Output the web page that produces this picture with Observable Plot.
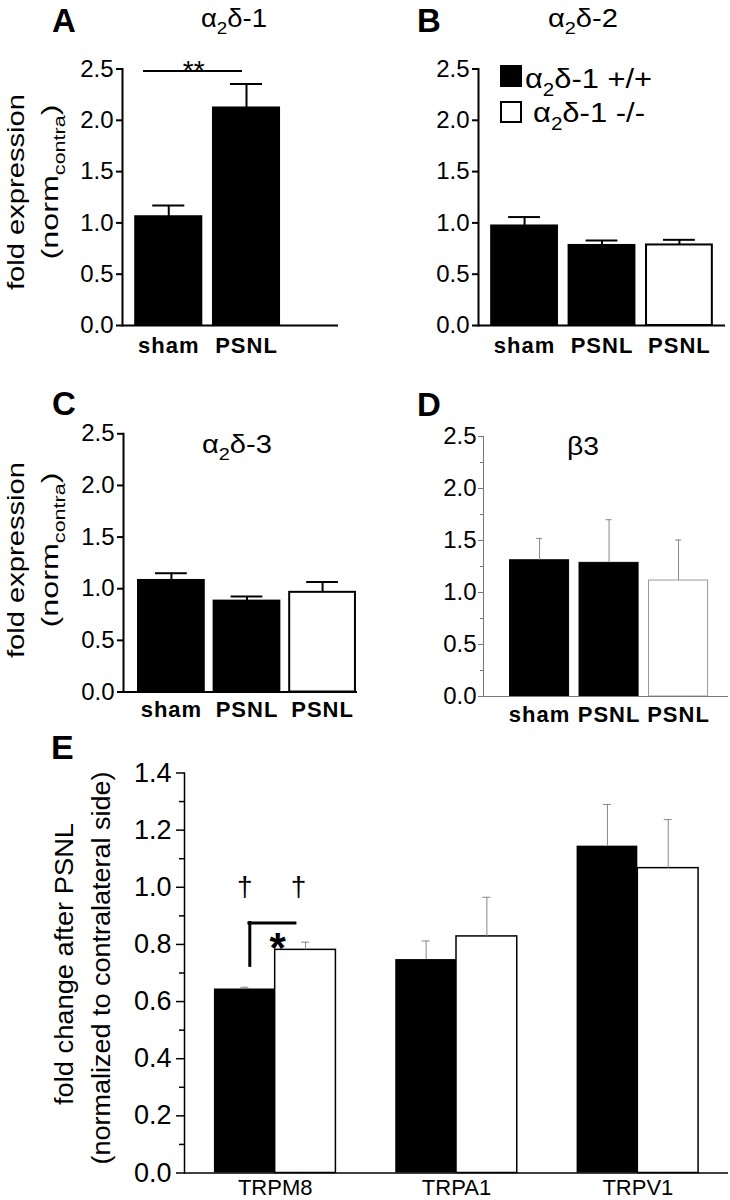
<!DOCTYPE html>
<html>
<head>
<meta charset="utf-8">
<script src="https://cdn.jsdelivr.net/npm/d3@7"></script>
<script src="https://cdn.jsdelivr.net/npm/@observablehq/plot@0.6"></script>
<style>
  body { margin: 0; background: #fff; }
  #fig { position: relative; width: 730px; height: 1200px; overflow: hidden; background: #fff;
         font-family: "Liberation Sans", Arial, Helvetica, sans-serif; }
  #fig > .panel { position: absolute; }
  #overlay { position: absolute; left: 0; top: 0; pointer-events: none; }
  .abcd g[aria-label="x-axis tick label"] text { letter-spacing: 1px; }
</style>
</head>
<body>
<div id="fig"></div>
<script>
// ---------------- DATA ----------------
const aGroups = ["sham", "PSNL"];
const aGeno   = ["+/+", "+/+"];
const aMean   = [1.06, 2.12];
const aSem    = [0.11, 0.235];

const bcdGroups = ["sham", "PSNL +/+", "PSNL -/-"];
const bcdGeno   = ["+/+", "+/+", "-/-"];
const bMean = [0.97, 0.78, 0.785];
const bSem  = [0.087, 0.048, 0.05];
const cMean = [1.08, 0.88, 0.965];
const cSem  = [0.07, 0.045, 0.10];
const dMean = [1.31, 1.285, 1.115];
const dSem  = [0.21, 0.415, 0.39];

const eGenes  = ["TRPM8", "TRPA1", "TRPV1"];
const eMeanWT = [0.644, 0.747, 1.144];
const eSemWT  = [0.006, 0.065, 0.146];
const eMeanKO = [0.781, 0.828, 1.067];
const eSemKO  = [0.027, 0.137, 0.17];

const abcdTicks   = [0, 0.5, 1.0, 1.5, 2.0, 2.5];
const dMinorTicks = [0.25, 0.75, 1.25, 1.75, 2.25];
const eTicks      = [0, 0.2, 0.4, 0.6, 0.8, 1.0, 1.2, 1.4];
const eMinorTicks = [0.1, 0.3, 0.5, 0.7, 0.9, 1.1, 1.3];
const xLabel = {"sham": "sham", "PSNL": "PSNL", "PSNL +/+": "PSNL", "PSNL -/-": "PSNL"};

// significance annotations
const aSig = [{g: "sham", v: 2.48, label: "**"}];
const eDagger = [{g: "TRPM8", v: 1.0, label: "†"}];
const eBracket = [{g: "TRPM8", low: 0.725, high: 0.875}];
const eStar = [{g: "TRPM8", v: 0.785, label: "*"}];

// ---------------- HELPERS ----------------
const FONT = '"Liberation Sans", Arial, Helvetica, sans-serif';
const fig = document.getElementById("fig");
function place(node, left, top) {
  const d = document.createElement("div");
  d.className = "panel";
  d.style.left = left + "px"; d.style.top = top + "px";
  d.appendChild(node); fig.appendChild(d);
}
function rowsOf(groups, geno, mean, sem) {
  return groups.map((g, i) => ({g, geno: geno[i], mean: mean[i], top: mean[i] + sem[i]}));
}
const fmt1 = d3.format(".1f");

function panel(rows, o) {
  return Plot.plot({
    className: "abcd",
    width: o.width, height: o.height,
    marginTop: o.mt, marginBottom: o.mb, marginLeft: o.ml, marginRight: o.mr,
    style: {fontFamily: FONT, fontSize: "24px", background: "transparent", color: "black", overflow: "visible"},
    x: {domain: o.domain, range: o.range, paddingInner: o.pi, paddingOuter: o.po, align: o.align, round: false},
    y: {domain: [0, 2.5]},
    color: {domain: ["+/+", "-/-"], range: ["black", "white"]},
    marks: [
      Plot.barY(rows, {filter: d => d.geno === "+/+", x: "g", y: "mean", fill: "geno", stroke: o.wtStroke, strokeWidth: o.barSW}),
      Plot.barY(rows, {filter: d => d.geno === "-/-", x: "g", y: "mean", fill: "geno", stroke: o.koStroke, strokeWidth: o.barSW}),
      Plot.ruleX(rows, {x: "g", y1: "mean", y2: "top", stroke: o.errColor, strokeWidth: o.errSW}),
      Plot.tickY(rows, {x: "g", y: "top", stroke: o.errColor, strokeWidth: o.errSW, insetLeft: o.capInset, insetRight: o.capInset}),
      Plot.ruleY([0], {stroke: o.axisColor, strokeWidth: o.axisSW}),
      Plot.frame({anchor: "left", stroke: o.axisColor, strokeWidth: o.axisSW}),
      Plot.axisY({ticks: abcdTicks, tickFormat: fmt1, tickSize: o.tickSize, tickPadding: o.tickPadding,
                  stroke: o.axisColor, strokeWidth: o.axisSW, fill: "black", fontSize: 24, label: null}),
      o.minor ? Plot.axisY({ticks: o.minor, tickFormat: () => "", tickSize: 3, stroke: o.axisColor, strokeWidth: o.axisSW, label: null}) : null,
      Plot.axisX({ticks: o.xTicks, tickFormat: d => xLabel[d], tickSize: 0, tickPadding: o.xPad,
                  fontWeight: "bold", fontSize: 22, fill: "black", label: null}),
      ...(o.extra || [])
    ]
  });
}

const solid = {axisColor: "black", axisSW: 2, barSW: 2, wtStroke: "black", koStroke: "black",
               errColor: "black", errSW: 2, capInset: 17, tickSize: 6, tickPadding: 3};

// ---------------- PANEL A ----------------
place(panel(rowsOf(aGroups, aGeno, aMean, aSem), {
  ...solid, width: 365, height: 365, mt: 68.5, mb: 40, ml: 122, mr: 27,
  domain: ["sham", "PSNL", "(none)"], range: [122, 370], pi: 0.15, po: 0.17, align: 0.5,
  xTicks: aGroups, xPad: 12,
  extra: [
    Plot.ruleY(aSig, {y: "v", stroke: "black", strokeWidth: 2, insetLeft: 21, insetRight: 96}),
    Plot.text(aSig, {x: "g", y: "v", text: "label", dx: 25, fontSize: 28, lineAnchor: "middle"})
  ]
}), 0, 0);

// ---------------- PANEL B ----------------
place(panel(rowsOf(bcdGroups, bcdGeno, bMean, bSem), {
  ...solid, width: 365, height: 365, mt: 68.5, mb: 40, ml: 113, mr: 5,
  domain: bcdGroups, range: [113, 360], pi: 0.15, po: 0.17, align: 0.5,
  xTicks: bcdGroups, xPad: 12
}), 365, 0);

// ---------------- PANEL C ----------------
place(panel(rowsOf(bcdGroups, bcdGeno, cMean, cSem), {
  ...solid, width: 365, height: 360, mt: 53.3, mb: 48.5, ml: 123, mr: 8,
  domain: bcdGroups, range: [123, 357], pi: 0.13, po: 0.113, align: 0.88,
  xTicks: bcdGroups, xPad: 9
}), 0, 380);

// ---------------- PANEL D ----------------
place(panel(rowsOf(bcdGroups, bcdGeno, dMean, dSem), {
  axisColor: "#777", axisSW: 1, barSW: 1, wtStroke: "black", koStroke: "#999",
  errColor: "#888", errSW: 1, capInset: 26.5, tickSize: 5, tickPadding: 2, minor: dMinorTicks,
  width: 365, height: 360, mt: 56, mb: 44, ml: 118, mr: 2,
  domain: bcdGroups, range: [118, 363], pi: 0.15, po: 0.338, align: 0.565,
  xTicks: bcdGroups, xPad: 9.5
}), 365, 380);

// ---------------- PANEL E ----------------
{
  const eRange = [184, 728];
  const eBand = d3.scaleBand().domain(eGenes).range(eRange).paddingInner(0.33).paddingOuter(0.165);
  const bw = eBand.bandwidth(), q = bw / 4;
  const eWT = eGenes.map((g, i) => ({g, geno: "+/+", mean: eMeanWT[i], top: eMeanWT[i] + eSemWT[i]}));
  const eKO = eGenes.map((g, i) => ({g, geno: "-/-", mean: eMeanKO[i], top: eMeanKO[i] + eSemKO[i]}));
  place(Plot.plot({
    width: 730, height: 460, marginTop: 32.5, marginBottom: 27.5, marginLeft: 184, marginRight: 2,
    style: {fontFamily: FONT, fontSize: "22px", background: "transparent", color: "black", overflow: "visible"},
    x: {domain: eGenes, range: eRange, paddingInner: 0.33, paddingOuter: 0.165, round: false},
    y: {domain: [0, 1.4]},
    color: {domain: ["+/+", "-/-"], range: ["black", "white"]},
    marks: [
      Plot.barY(eWT, {x: "g", y: "mean", fill: "geno", insetRight: bw / 2}),
      Plot.barY(eKO, {x: "g", y: "mean", fill: "geno", stroke: "black", strokeWidth: 1.5, insetLeft: bw / 2}),
      Plot.ruleX(eWT, {x: "g", y1: "mean", y2: "top", dx: -q, stroke: "#888", strokeWidth: 1}),
      Plot.tickY(eWT, {x: "g", y: "top", insetLeft: q - 4, insetRight: 3 * q - 4, stroke: "#888", strokeWidth: 1}),
      Plot.ruleX(eKO, {x: "g", y1: "mean", y2: "top", dx: q, stroke: "#888", strokeWidth: 1}),
      Plot.tickY(eKO, {x: "g", y: "top", insetLeft: 3 * q - 4, insetRight: q - 4, stroke: "#888", strokeWidth: 1}),
      Plot.ruleY([0], {stroke: "black", strokeWidth: 1.5}),
      Plot.frame({anchor: "left", stroke: "black", strokeWidth: 1.5}),
      Plot.axisY({ticks: eTicks, tickFormat: fmt1, tickSize: 8, tickPadding: 5, strokeWidth: 1.5, fill: "black", fontSize: 27, label: null}),
      Plot.axisY({ticks: eMinorTicks, tickFormat: () => "", tickSize: 5, strokeWidth: 1.5, label: null}),
      Plot.axisX({tickSize: 0, tickPadding: 6, fontSize: 22, fill: "black", label: null}),
      // annotations
      Plot.text(eDagger, {x: "g", y: "v", text: "label", dx: -q, fontSize: 28, lineAnchor: "middle"}),
      Plot.text(eDagger, {x: "g", y: "v", text: "label", dx: q - 7, fontSize: 28, lineAnchor: "middle"}),
      Plot.ruleX(eBracket, {x: "g", y1: "low", y2: "high", dx: -q + 5, stroke: "black", strokeWidth: 3, strokeLinecap: "square"}),
      Plot.tickY(eBracket, {x: "g", y: "high", insetLeft: 35, insetRight: bw - 81, stroke: "black", strokeWidth: 3, strokeLinecap: "square"}),
      Plot.text(eStar, {x: "g", y: "v", text: "label", dx: 2.5, fontSize: 42, fontWeight: "bold", lineAnchor: "middle"})
    ]
  }), 0, 740);
}

// ---------------- OVERLAY TEXT ----------------
const ov = d3.select("#fig").append("svg").attr("id", "overlay")
  .attr("width", 730).attr("height", 1200).style("font-family", FONT);

function addText(x, y, parts, {size, weight = "normal", anchor = "start", rotate = 0, length = null, fill = "black"}) {
  const t = ov.append("text").attr("x", x).attr("y", y)
    .attr("font-size", size).attr("font-weight", weight).attr("text-anchor", anchor).attr("fill", fill);
  if (rotate) t.attr("transform", `rotate(${rotate},${x},${y})`);
  if (length) t.attr("textLength", length).attr("lengthAdjust", "spacingAndGlyphs");
  let shift = 0;
  for (const p of parts) {
    const isSub = typeof p === "object";
    const s = t.append("tspan").text(isSub ? p.sub : p);
    const target = isSub ? Math.round(size * 0.28) : 0;
    if (target - shift !== 0) s.attr("dy", target - shift);
    shift = target;
    if (isSub) s.attr("font-size", Math.round(size * 0.68));
  }
  return t;
}

// panel letters
addText(52, 32, ["A"], {size: 33, weight: "bold"});
addText(417, 32, ["B"], {size: 33, weight: "bold"});
addText(52, 415, ["C"], {size: 33, weight: "bold"});
addText(417, 416, ["D"], {size: 33, weight: "bold"});
addText(51, 759, ["E"], {size: 34, weight: "bold"});

// titles
addText(234, 27, ["α", {sub: "2"}, "δ-1"], {size: 25, anchor: "middle", length: 66});
addText(583, 27, ["α", {sub: "2"}, "δ-2"], {size: 25, anchor: "middle", length: 70});
addText(237, 453, ["α", {sub: "2"}, "δ-3"], {size: 25, anchor: "middle", length: 70});
addText(583, 455, ["β3"], {size: 25, anchor: "middle", length: 32});

// legend (panel B)
ov.append("rect").attr("x", 500).attr("y", 65).attr("width", 22).attr("height", 22).attr("fill", "black");
ov.append("rect").attr("x", 501).attr("y", 102).attr("width", 20).attr("height", 20)
  .attr("fill", "white").attr("stroke", "black").attr("stroke-width", 2);
addText(525, 88, ["α", {sub: "2"}, "δ-1 +/+"], {size: 27, length: 127});
addText(533, 122, ["α", {sub: "2"}, "δ-1 -/-"], {size: 27, length: 112});

// y-axis titles
addText(24, 192, ["fold expression"], {size: 24, anchor: "middle", rotate: -90, length: 196});
addText(58, 182, ["(norm", {sub: "contra"}, ")"], {size: 24, anchor: "middle", rotate: -90, length: 155});
addText(24, 560, ["fold expression"], {size: 24, anchor: "middle", rotate: -90, length: 196});
addText(58, 550, ["(norm", {sub: "contra"}, ")"], {size: 24, anchor: "middle", rotate: -90, length: 155});
addText(73, 964, ["fold change after PSNL"], {size: 25, anchor: "middle", rotate: -90, length: 282});
addText(110, 968, ["(normalized to contralateral side)"], {size: 25, anchor: "middle", rotate: -90, length: 393});
</script>
</body>
</html>
